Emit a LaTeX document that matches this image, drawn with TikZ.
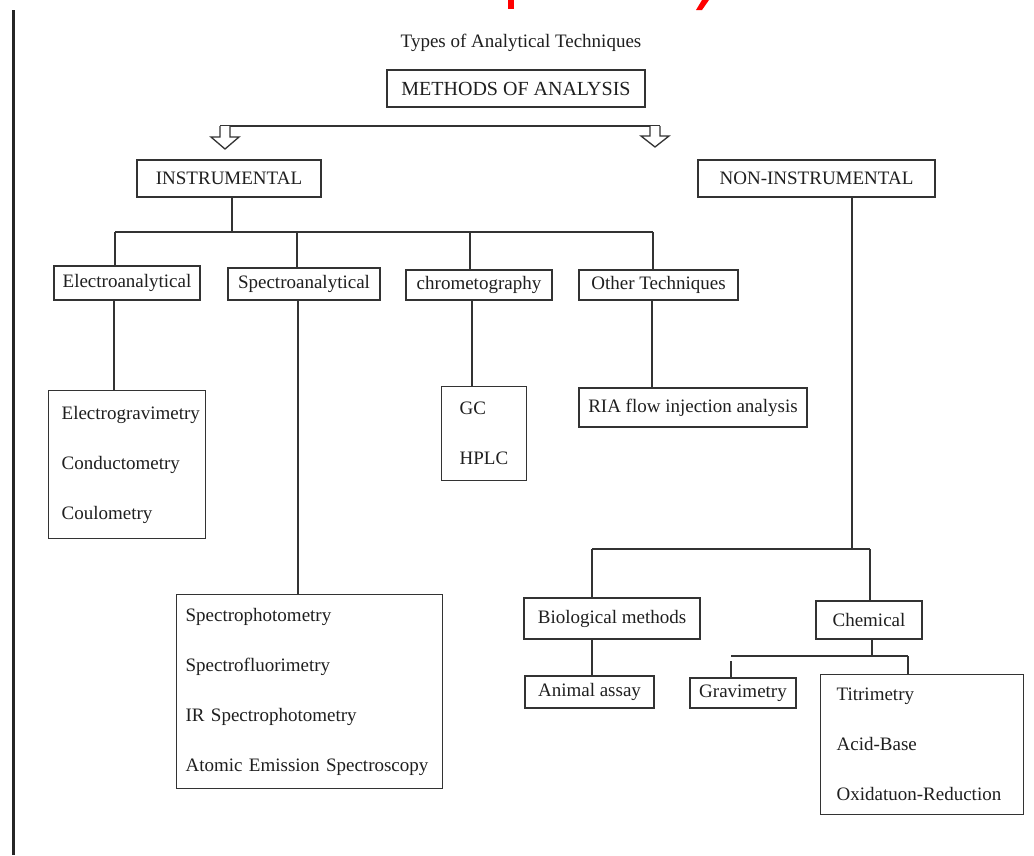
\documentclass[tikz,border=0pt]{standalone}
\usepackage{fontspec}
\setmainfont{Liberation Serif}
\newcommand{\bodyfs}{\fontsize{19}{23}\selectfont}
\newcommand{\headfs}{\fontsize{20}{24}\selectfont}
\newcommand{\listfs}{\fontsize{19}{50}\selectfont\hyphenpenalty=10000\exhyphenpenalty=10000}
\begin{document}
\begin{tikzpicture}[x=1pt,y=-1pt,
  line/.style={draw=black!80, line width=1.3pt},
  box/.style={draw=black!80, line width=1.3pt, inner sep=0pt, font=\bodyfs, text=black!88},
  listbox/.style={draw=black!80, line width=1.3pt, inner ysep=0pt, font=\listfs, text=black!88, align=left, anchor=north west},
  hollow/.style={draw=black!80, line width=1.3pt, fill=white, line join=miter}]
\useasboundingbox (0,0) rectangle (1034,855);
\fill[white] (0,0) rectangle (1034,855);
% left margin bar
\draw[line width=3pt, black!85] (13,10) -- (13,855);
% cut-off red title fragments
\fill[red] (508,0) rectangle (514,9);
\fill[red] (702,0) -- (709,0) -- (702,10) -- (696,10) -- cycle;

\node[font=\bodyfs, text=black!88, inner sep=0pt] (title) at (521,43) {Types of Analytical Techniques};
\node[box, font=\headfs, minimum width=258pt, minimum height=37pt] (meth) at (516,88.5) {METHODS OF ANALYSIS};

% split line with hollow arrows
\coordinate (la) at (225,126);
\coordinate (ra) at (655,126);
\draw[line] (220,126) coordinate (hl) -- (660,126) coordinate (hr);
\draw[hollow] (la) ++(-5,0) -- ++(0,11) -- ++(-9,0) -- ++(14,12) -- ++(14,-12) -- ++(-9,0) -- ++(0,-11);
\draw[hollow] (ra) ++(-5,0) -- ++(0,10) -- ++(-9,0) -- ++(14,11) -- ++(14,-11) -- ++(-9,0) -- ++(0,-10);

\node[box, minimum width=184pt, minimum height=37pt] (instr) at (229,178.5) {INSTRUMENTAL};
\node[box, minimum width=237pt, minimum height=37pt] (noninstr) at (816.5,178.5) {NON-INSTRUMENTAL};

% instrumental branches
\node[box, minimum width=146pt, minimum height=34pt] (electro) at (127,283) {Electroanalytical};
\node[box, minimum width=152pt, minimum height=32pt] (spectro) at (304,284) {Spectroanalytical};
\node[box, minimum width=146pt, minimum height=30pt] (chrom) at (479,285) {\raisebox{2pt}{chrometography}};
\node[box, minimum width=159pt, minimum height=30pt] (other) at (658.5,285) {Other Techniques};

\node[listbox, text width=131pt, inner xsep=13pt, minimum height=148pt] (elist) at (48,390) {Electrogravimetry\\Conductometry\\Coulometry};
\node[listbox, text width=248pt, inner xsep=9pt, minimum height=194pt] (slist) at (176,594) {Spectrophotometry\\Spectrofluorimetry\\IR Spectrophotometry\\Atomic Emission Spectroscopy};
\node[listbox, text width=49pt, inner xsep=18pt, minimum height=94pt] (gclist) at (441,386) {GC\\HPLC};
\node[box, minimum width=228pt, minimum height=39pt] (ria) at (693,407.5) {RIA flow injection analysis};

% non-instrumental branches
\node[box, minimum width=176pt, minimum height=41pt] (bio) at (612,618.5) {Biological methods};
\node[box, minimum width=106pt, minimum height=38pt] (chem) at (869,620) {Chemical};
\node[box, minimum width=129pt, minimum height=32pt] (animal) at (589.5,692) {Animal assay};
\node[box, minimum width=106pt, minimum height=30pt] (grav) at (743,693) {Gravimetry};
\node[listbox, text width=171pt, inner xsep=16pt, minimum height=140pt] (titri) at (820,674) {Titrimetry\\Acid-Base\\Oxidatuon-Reduction};

% guides
\coordinate (ib) at (232,232);
\coordinate (b1) at (115,232);
\coordinate (b2) at (297,232);
\coordinate (b3) at (470,232);
\coordinate (b4) at (653,232);
\coordinate (xe) at (114,0);
\coordinate (xs) at (298,0);
\coordinate (xc) at (472,0);
\coordinate (xo) at (652,0);
\coordinate (xn) at (852,0);
\coordinate (nb1) at (592,549);
\coordinate (nb2) at (870,549);
\coordinate (xb) at (592,0);
\coordinate (xch) at (872,0);
\coordinate (cb1) at (731,656);
\coordinate (cb2) at (908,656);

% instrumental connectors
\draw[line] (instr.south -| ib) -- (ib);
\draw[line] (b1) -- (b4);
\draw[line] (b1) -- (b1 |- electro.north);
\draw[line] (b2) -- (b2 |- spectro.north);
\draw[line] (b3) -- (b3 |- chrom.north);
\draw[line] (b4) -- (b4 |- other.north);
\draw[line] (xe |- electro.south) -- (xe |- elist.north);
\draw[line] (xs |- spectro.south) -- (xs |- slist.north);
\draw[line] (xc |- chrom.south) -- (xc |- gclist.north);
\draw[line] (xo |- other.south) -- (xo |- ria.north);

% non-instrumental connectors
\draw[line] (xn |- noninstr.south) -- (xn |- nb1);
\draw[line] (nb1) -- (nb2);
\draw[line] (nb1) -- (nb1 |- bio.north);
\draw[line] (nb2) -- (nb2 |- chem.north);
\draw[line] (xb |- bio.south) -- (xb |- animal.north);
\draw[line] (xch |- chem.south) -- (xch |- cb1);
\draw[line] (cb1) -- (cb2);
\draw[line] ([yshift=-5pt]cb1) -- (cb1 |- grav.north);
\draw[line] (cb2) -- (cb2 |- titri.north);
\end{tikzpicture}
\end{document}
